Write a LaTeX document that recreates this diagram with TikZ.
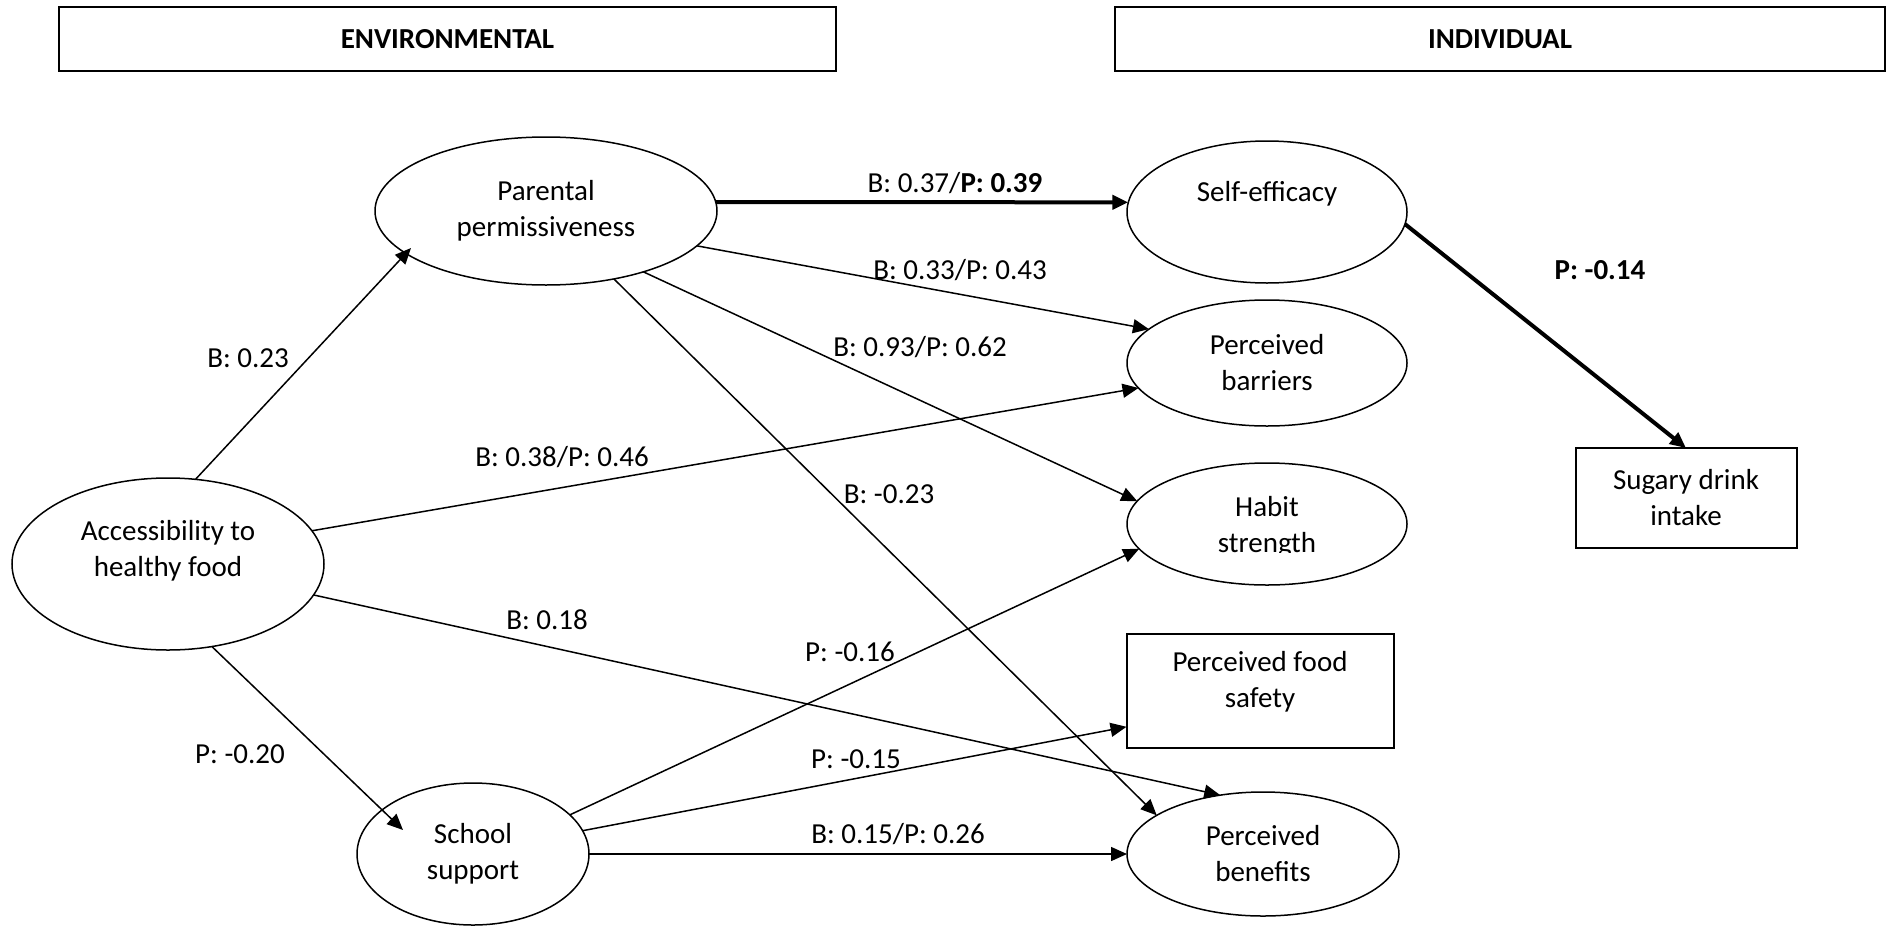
\documentclass[tikz,border=0pt]{standalone}
\usepackage{fontspec}
\setmainfont{Carlito}
\usetikzlibrary{arrows.meta,shapes.geometric}
\begin{document}
\begin{tikzpicture}[x=0.5pt,y=-0.5pt,
  every node/.style={font=\fontsize{14.5}{18}\selectfont},
  oval/.style={draw,ellipse,line width=0.75pt,inner sep=0pt,outer sep=0pt},
  box/.style={draw,rectangle,line width=1pt,inner sep=0pt,outer sep=0pt},
  txt/.style={align=center,inner sep=0pt},
  lbl/.style={inner sep=0pt},
  link/.style={line width=0.75pt,-{Triangle[length=8pt,width=7pt]}},
  strong/.style={line width=2pt,-{Triangle[length=8pt,width=7pt]}}]
\useasboundingbox (0,0) rectangle (1888,926);

% group headers
\node[box,minimum width=388.5pt,minimum height=32pt,font=\fontsize{14.5}{18}\selectfont\bfseries] (env) at (447.5,39) {ENVIRONMENTAL};
\node[box,minimum width=385pt,minimum height=32pt,font=\fontsize{14.5}{18}\selectfont\bfseries] (ind) at (1500,39) {INDIVIDUAL};

% environmental factors
\node[oval,minimum width=171pt,minimum height=74pt,align=center] (par) at (546,211) {Parental\\permissiveness};
\node[oval,minimum width=156pt,minimum height=86pt] (acc) at (168,564) {};
\node[txt] (acc-t) at (168,551) {Accessibility to\\healthy food};
\node[oval,minimum width=116pt,minimum height=71pt,align=center] (sch) at (473,854) {School\\support};

% individual factors
\node[oval,minimum width=140pt,minimum height=71pt] (self) at (1267,212) {};
\node[txt] (self-t) at (1267,194) {Self-efficacy};
\node[oval,minimum width=140pt,minimum height=63pt,align=center] (bar) at (1267,363) {Perceived\\barriers};
\node[oval,minimum width=140pt,minimum height=61pt] (hab) at (1267,524) {};
\begin{scope}
  \clip (1127,462) rectangle (1407,552);
  \node[txt] (hab-t) at (1267,527) {Habit\\strength};
\end{scope}
\node[box,minimum width=133.5pt,minimum height=57pt] (saf) at (1260,691) {};
\node[txt] (saf-t) at (1260,682) {Perceived food\\safety};
\node[oval,minimum width=136pt,minimum height=62pt,align=center] (ben) at (1263,854) {Perceived\\benefits};
\node[box,minimum width=110.5pt,minimum height=50pt,align=center] (sug) at (1686,498) {Sugary drink\\intake};

% arrow ends that reach into an ellipse
\coordinate (par-in) at (411,248);
\coordinate (sch-in) at (403,830);

% paths
\draw[link] (acc.72) -- (par-in);
\draw[strong] (par.3) -- (self.176);
\draw[link] (par.-13) -- (bar.164);
\draw[link] (par.-32) -- (hab.170);
\draw[link] (par.-45) -- (ben.160);
\draw[link] (acc.13) -- (bar.191);
\draw[link] (acc.-12) -- (ben.126);
\draw[link] (acc.-62) -- (sch-in);
\draw[link] (sch.22) -- (hab.191);
\draw[link] (sch.12) -- (saf.195.5);
\draw[link] (sch.east) -- (ben.west);
\draw[strong] (self.-5) -- (sug.north);

% path coefficients
\node[lbl] (c-acc-par) at (248,358) {B: 0.23};
\node[lbl] (c-par-self) at (955,183) {B: 0.37/\textbf{P: 0.39}};
\node[lbl] (c-par-bar) at (960,270) {B: 0.33/P: 0.43};
\node[lbl] (c-par-hab) at (920,347) {B: 0.93/P: 0.62};
\node[lbl] (c-par-ben) at (889,494) {B: -0.23};
\node[lbl] (c-acc-bar) at (562,457) {B: 0.38/P: 0.46};
\node[lbl] (c-acc-ben) at (547,620) {B: 0.18};
\node[lbl] (c-acc-sch) at (240,754) {P: -0.20};
\node[lbl] (c-sch-hab) at (850,652) {P: -0.16};
\node[lbl] (c-sch-saf) at (856,759) {P: -0.15};
\node[lbl] (c-sch-ben) at (898,834) {B: 0.15/P: 0.26};
\node[lbl,font=\fontsize{14.5}{18}\selectfont\bfseries] (c-self-sug) at (1600,270) {P: -0.14};
\end{tikzpicture}
\end{document}
